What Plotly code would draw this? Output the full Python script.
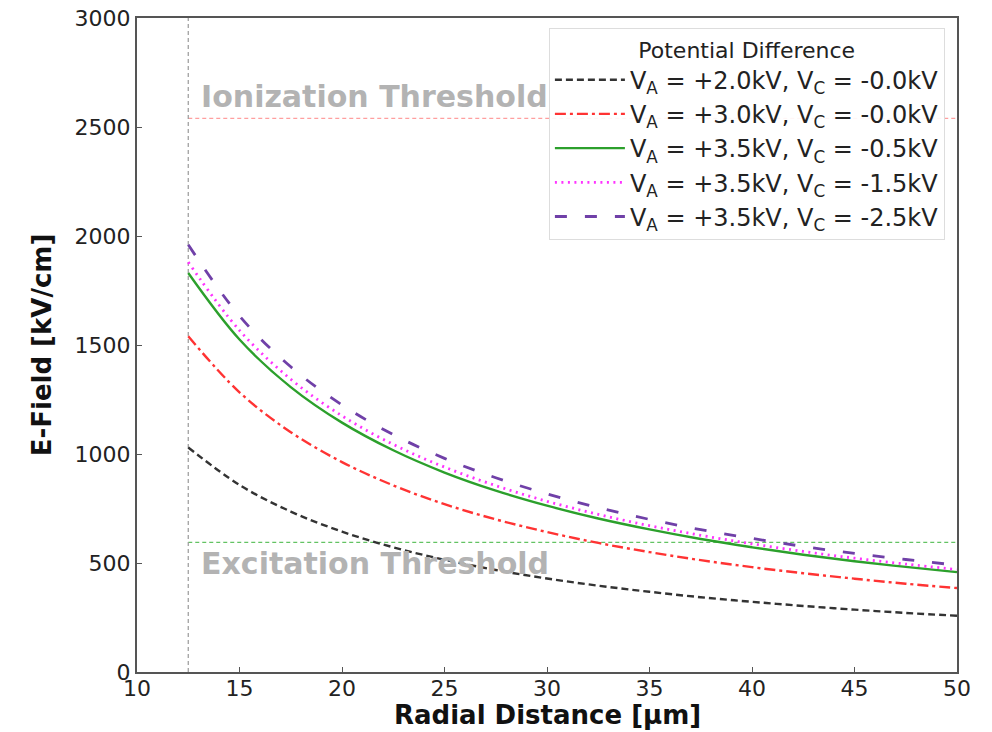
import plotly.graph_objects as go

r_um = [12.5, 15, 17.5, 20, 22.5, 25, 27.5, 30, 32.5, 35, 37.5, 40, 42.5, 45, 47.5, 50]

e_a20_c00 = [1030, 858, 736, 644, 572, 515, 468, 429, 396, 368, 343, 322, 303, 286, 271, 258]
e_a30_c00 = [1540, 1283, 1100, 963, 856, 770, 700, 642, 592, 550, 513, 481, 453, 428, 405, 385]
e_a35_c05 = [1830, 1525, 1307, 1144, 1017, 915, 832, 763, 704, 654, 610, 572, 538, 508, 482, 458]
e_a35_c15 = [1880, 1567, 1343, 1175, 1044, 940, 855, 783, 723, 671, 627, 588, 553, 522, 495, 470]
e_a35_c25 = [1960, 1633, 1400, 1225, 1089, 980, 891, 817, 754, 700, 653, 613, 576, 544, 516, 490]

labels = [
    "V<sub>A</sub> = +2.0kV, V<sub>C</sub> = -0.0kV",
    "V<sub>A</sub> = +3.0kV, V<sub>C</sub> = -0.0kV",
    "V<sub>A</sub> = +3.5kV, V<sub>C</sub> = -0.5kV",
    "V<sub>A</sub> = +3.5kV, V<sub>C</sub> = -1.5kV",
    "V<sub>A</sub> = +3.5kV, V<sub>C</sub> = -2.5kV",
]

ionization_threshold = 2540
excitation_threshold = 595
wire_radius = 12.5

series = [e_a20_c00, e_a30_c00, e_a35_c05, e_a35_c15, e_a35_c25]
colors = ["#333333", "#ff3333", "#2ca02c", "#ff33ff", "#7040a8"]
dashes = ["7px,4px", "11px,4px,3px,4px", "solid", "2px,4.5px", "12px,18px"]
widths = [2.4, 2.4, 2.4, 2.8, 2.8]

fig = go.Figure()

# threshold lines
fig.add_trace(go.Scatter(x=[wire_radius, r_um[-1]], y=[ionization_threshold]*2, mode="lines",
                         line=dict(color="rgba(255,80,80,0.55)", width=1.2, dash="4px,3px"),
                         showlegend=False, hoverinfo="skip"))
fig.add_trace(go.Scatter(x=[wire_radius, r_um[-1]], y=[excitation_threshold]*2, mode="lines",
                         line=dict(color="rgba(60,180,60,0.8)", width=1.2, dash="4px,3px"),
                         showlegend=False, hoverinfo="skip"))
fig.add_trace(go.Scatter(x=[wire_radius]*2, y=[0, 3000], mode="lines",
                         line=dict(color="#999999", width=1.2, dash="4px,3px"),
                         showlegend=False, hoverinfo="skip"))

for ys, c, d, w, lab in zip(series, colors, dashes, widths, labels):
    fig.add_trace(go.Scatter(x=r_um, y=ys, mode="lines", name=lab,
                             line=dict(color=c, dash=d, width=w, shape="spline")))

fig.add_annotation(x=13.0, y=2642, xanchor="left", yanchor="middle", text="<b>Ionization Threshold</b>",
                   showarrow=False, font=dict(family="DejaVu Sans", size=30, color="#b3b3b3"))
fig.add_annotation(x=13.0, y=500, xanchor="left", yanchor="middle", text="<b>Excitation Threshold</b>",
                   showarrow=False, font=dict(family="DejaVu Sans", size=30, color="#b3b3b3"))
# x-axis title placed as annotation below the tick labels
fig.add_annotation(xref="paper", yref="paper", x=0.5, y=-0.066, xanchor="center", yanchor="middle",
                   text="<b>Radial Distance [μm]</b>", showarrow=False,
                   font=dict(family="DejaVu Sans", size=26, color="#111111"))

axis_common = dict(showline=True, linecolor="#555555", linewidth=2, mirror=True, automargin=False,
                   ticks="inside", ticklen=5, tickcolor="#555555", showgrid=False, zeroline=False,
                   tickfont=dict(family="DejaVu Sans", size=22, color="#222222"))

fig.update_layout(
    width=992, height=732,
    margin=dict(l=137, r=35, t=18, b=60),
    plot_bgcolor="white", paper_bgcolor="white",
    xaxis=dict(range=[10, 50], tickvals=[10, 15, 20, 25, 30, 35, 40, 45, 50],
               ticklabelstandoff=-4, **axis_common),
    yaxis=dict(range=[0, 3000], tickvals=[0, 500, 1000, 1500, 2000, 2500, 3000],
               title=dict(text="<b>E-Field [kV/cm]</b>",
                          font=dict(family="DejaVu Sans", size=26, color="#111111")),
               **axis_common),
    legend=dict(x=0.985, y=0.985, xanchor="right", yanchor="top",
                bgcolor="rgba(255,255,255,0.9)", bordercolor="#dddddd", borderwidth=1.2,
                title=dict(text="Potential Difference", side="top center",
                           font=dict(family="DejaVu Sans", size=22, color="#222222")),
                font=dict(family="DejaVu Sans", size=24, color="#222222"),
                itemwidth=70, tracegroupgap=0),
)

fig.write_html("out.html")
